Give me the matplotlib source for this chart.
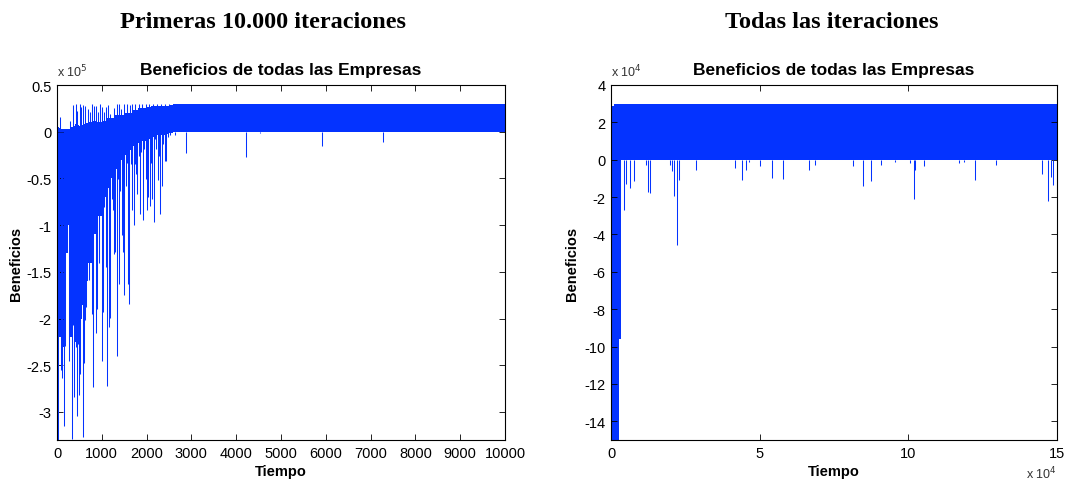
import matplotlib
matplotlib.use("Agg")
import matplotlib.pyplot as plt
from matplotlib.ticker import FuncFormatter, FixedLocator

# ---------------- data ----------------
BLUE = "#0433ff"

# Left panel: first 10.000 iterations
left_edges = [0, 50, 100, 150, 200, 250, 300, 350, 400, 450, 500, 550, 600, 650,
              700, 800, 900, 1000, 1100, 1200, 1300, 1400, 1500, 1600, 1700, 1800,
              1900, 2000, 2100, 2200, 2300, 2400, 2500, 2600, 10000]
left_neg_solid = [-2.4e5, -2.2e5, -2.3e5, -2.15e5, -1.3e5, -1.0e5, -2.2e5, -1.9e5,
                  -2.25e5, -2.1e5, -2.0e5, -1.85e5, -1.9e5, -1.6e5, -1.4e5, -1.1e5,
                  -0.9e5, -0.7e5, -0.6e5, -0.5e5, -0.4e5, -0.3e5, -0.25e5, -0.2e5,
                  -0.15e5, -0.12e5, -0.1e5, -0.08e5, -0.06e5, -0.04e5, -0.03e5,
                  -0.02e5, -0.01e5, 0, 0]
left_pos_solid = [0.05e5, 0.04e5, 0.03e5, 0.03e5, 0.03e5, 0.03e5, 0.05e5, 0.06e5,
                  0.08e5, 0.07e5, 0.06e5, 0.07e5, 0.08e5, 0.09e5, 0.10e5, 0.12e5,
                  0.10e5, 0.12e5, 0.15e5, 0.15e5, 0.18e5, 0.18e5, 0.20e5, 0.20e5,
                  0.23e5, 0.25e5, 0.25e5, 0.26e5, 0.27e5, 0.27e5, 0.28e5, 0.28e5,
                  0.29e5, 0.30e5, 0.30e5]
left_spike_t = [22, 52, 82, 104, 149, 186, 260, 312, 335, 357, 387, 416, 439, 468,
                491, 520, 550, 580, 602, 625, 647, 691, 721, 751, 788, 810, 840,
                862, 885, 914, 937, 967, 996, 1026, 1056, 1086, 1108, 1130, 1160,
                1190, 1219, 1249, 1279, 1301, 1338, 1361, 1383, 1413, 1442, 1472,
                1494, 1532, 1561, 1584, 1613, 1643, 1680, 1710, 1740, 1762, 1792,
                1822, 1851, 1881, 1918, 1948, 1978, 2007, 2037, 2067, 2097, 2126,
                2156, 2186, 2216, 2245, 2275, 2305, 2335, 2364, 2409, 2439, 2468,
                2528, 2625, 2877, 4223, 4535, 5918, 7286]
left_spike_v = [-3.3e5, -1.63e5, -2.55e5, -2.64e5, -3.15e5, -2.29e5, -2.45e5,
                -1.25e5, -3.29e5, -2.07e5, -2.84e5, -2.3e5, -3.04e5, -2.27e5,
                -2.82e5, -2.59e5, -1.84e5, -3.27e5, -2.48e5, -2.02e5, -1.88e5,
                -1.11e5, -1.59e5, -0.70e5, -1.95e5, -2.73e5, -0.29e5, -2.15e5,
                -1.9e5, -0.67e5, -1.41e5, -0.52e5, -2.45e5, -1.93e5, -0.81e5,
                -1.45e5, -2.72e5, -0.43e5, -2.09e5, -1.99e5, -0.72e5, -0.84e5,
                -1.31e5, -1.29e5, -2.40e5, -0.51e5, -1.63e5, -0.63e5, -1.11e5,
                -1.29e5, -1.75e5, -0.58e5, -0.33e5, -1.63e5, -1.84e5, -0.35e5,
                -0.84e5, -1.0e5, -0.35e5, -0.45e5, -0.67e5, -0.26e5, -0.88e5,
                -0.22e5, -0.95e5, -0.19e5, -0.51e5, -0.84e5, -0.70e5, -0.79e5,
                -0.33e5, -0.72e5, -0.97e5, -0.08e5, -0.19e5, -0.52e5, -0.26e5,
                -0.88e5, -0.58e5, -0.13e5, -0.31e5, -0.31e5, -0.06e5, -0.04e5,
                -0.03e5, -0.23e5, -0.27e5, -0.01e5, -0.15e5, -0.11e5]
left_pos_spike_t = [74, 297, 357, 416, 454, 506, 543, 587, 632, 684, 729, 781, 818,
                    870, 907, 952, 996, 1041, 1100, 1138, 1190, 1227, 1279, 1338,
                    1390, 1428, 1502, 1560, 1620, 1680, 1750, 1820, 1900, 1980,
                    2060, 2150, 2240, 2330, 2420, 2510]
left_pos_spike_v = [0.16e5, 0.12e5, 0.29e5, 0.30e5, 0.22e5, 0.30e5, 0.26e5, 0.29e5,
                    0.27e5, 0.24e5, 0.21e5, 0.30e5, 0.28e5, 0.28e5, 0.21e5, 0.30e5,
                    0.26e5, 0.21e5, 0.26e5, 0.29e5, 0.19e5, 0.14e5, 0.25e5, 0.30e5,
                    0.30e5, 0.24e5, 0.30e5, 0.30e5, 0.29e5, 0.30e5, 0.30e5, 0.30e5,
                    0.30e5, 0.30e5, 0.30e5, 0.30e5, 0.30e5, 0.30e5, 0.30e5, 0.30e5]

# Right panel: all iterations
right_edges = [0, 500, 1000, 2560, 3300, 150000]
right_neg_solid = [-16e4, -16e4, -16e4, -9.6e4, 0, 0]
right_pos_solid = [0.6e4, 2.9e4, 3.0e4, 3.0e4, 3.0e4, 3.0e4]
right_spike_t = [3140, 4480, 4930, 6280, 7620, 11660, 12440, 13230, 19950, 20520,
                 21190, 22200, 22870, 28700, 41590, 43950, 45400, 46520, 50220,
                 54030, 57850, 66480, 68500, 81390, 84870, 87560, 90810, 95520,
                 100560, 102020, 102360, 105160, 116930, 118830, 122310, 129600,
                 144840, 146860, 147870, 148650]
right_spike_v = [-2.39e4, -2.7e4, -1.3e4, -1.5e4, -1.15e4, -0.3e4, -1.73e4, -1.78e4,
                 -0.3e4, -0.6e4, -1.96e4, -4.55e4, -1.1e4, -0.57e4, -0.43e4, -1.07e4,
                 -0.57e4, -0.12e4, -0.36e4, -1.0e4, -1.02e4, -0.57e4, -0.29e4,
                 -0.36e4, -1.39e4, -1.16e4, -0.29e4, -0.12e4, -0.18e4, -2.1e4,
                 -0.57e4, -0.36e4, -0.18e4, -0.12e4, -1.07e4, -0.29e4, -0.78e4,
                 -2.2e4, -0.9e4, -1.37e4]

# ---------------- figure ----------------
plt.rcParams["font.family"] = ["Liberation Sans", "DejaVu Sans"]
fig = plt.figure(figsize=(10.67, 4.85), dpi=100)

def style_axes(ax):
    for s in ax.spines.values():
        s.set_color("black")
        s.set_linewidth(0.8)
    ax.tick_params(direction="in", length=4, width=0.6, top=True, right=True,
                   labelsize=10.5, pad=4, colors="black")

# Left
axL = fig.add_axes([57/1067, 1-441/485, 448/1067, 355/485])
axL.fill_between(left_edges, left_neg_solid, left_pos_solid, step="post",
                 color=BLUE, linewidth=0)
axL.vlines(left_spike_t, 0, left_spike_v, color=BLUE, linewidth=0.75)
axL.vlines(left_pos_spike_t, 0, left_pos_spike_v, color=BLUE, linewidth=0.75)
axL.set_xlim(0, 10000)
axL.set_ylim(-3.3e5, 0.5e5)
axL.xaxis.set_major_locator(FixedLocator(list(range(0, 10001, 1000))))
axL.yaxis.set_major_locator(FixedLocator([v * 1e5 for v in
                                          [-3, -2.5, -2, -1.5, -1, -0.5, 0, 0.5]]))
axL.yaxis.set_major_formatter(FuncFormatter(lambda v, p: "%g" % round(v / 1e5, 2)))
axL.xaxis.set_major_formatter(FuncFormatter(lambda v, p: "%d" % v))
style_axes(axL)
axL.set_title("Beneficios de todas las Empresas", fontsize=12.5, fontweight="bold",
              pad=8)
axL.set_xlabel("Tiempo", fontsize=10.5, fontweight="bold", labelpad=3)
axL.set_ylabel("Beneficios", fontsize=10.5, fontweight="bold", labelpad=2)
axL.annotate("x 10$^{5}$", xy=(0, 1), xycoords="axes fraction", xytext=(0, 4),
             textcoords="offset points", fontsize=9, color="#333333",
             ha="left", va="bottom")

# Right
axR = fig.add_axes([611/1067, 1-441/485, 446/1067, 355/485])
axR.fill_between(right_edges, right_neg_solid, right_pos_solid, step="post",
                 color=BLUE, linewidth=0)
axR.vlines(right_spike_t, 0, right_spike_v, color=BLUE, linewidth=0.75)
axR.set_xlim(0, 150000)
axR.set_ylim(-15e4, 4e4)
axR.xaxis.set_major_locator(FixedLocator([0, 5e4, 10e4, 15e4]))
axR.xaxis.set_major_formatter(FuncFormatter(lambda v, p: "%d" % round(v / 1e4)))
axR.yaxis.set_major_locator(FixedLocator([v * 1e4 for v in range(-14, 5, 2)]))
axR.yaxis.set_major_formatter(FuncFormatter(lambda v, p: "%d" % round(v / 1e4)))
style_axes(axR)
axR.set_title("Beneficios de todas las Empresas", fontsize=12.5, fontweight="bold",
              pad=8)
axR.set_xlabel("Tiempo", fontsize=10.5, fontweight="bold", labelpad=3)
axR.set_ylabel("Beneficios", fontsize=10.5, fontweight="bold", labelpad=4)
axR.annotate("x 10$^{4}$", xy=(0, 1), xycoords="axes fraction", xytext=(0, 4),
             textcoords="offset points", fontsize=9, color="#333333",
             ha="left", va="bottom")
axR.annotate("x 10$^{4}$", xy=(1, 0), xycoords="axes fraction", xytext=(0, -18),
             textcoords="offset points", fontsize=9, color="#333333",
             ha="right", va="top")

# Super titles
fig.text(263/1067, 1-22/485, "Primeras 10.000 iteraciones", ha="center", va="center",
         fontsize=17.5, fontweight="bold", family=["Liberation Serif", "DejaVu Serif"])
fig.text(832/1067, 1-22/485, "Todas las iteraciones", ha="center", va="center",
         fontsize=17.5, fontweight="bold", family=["Liberation Serif", "DejaVu Serif"])

fig.savefig("out.png", dpi=100)
